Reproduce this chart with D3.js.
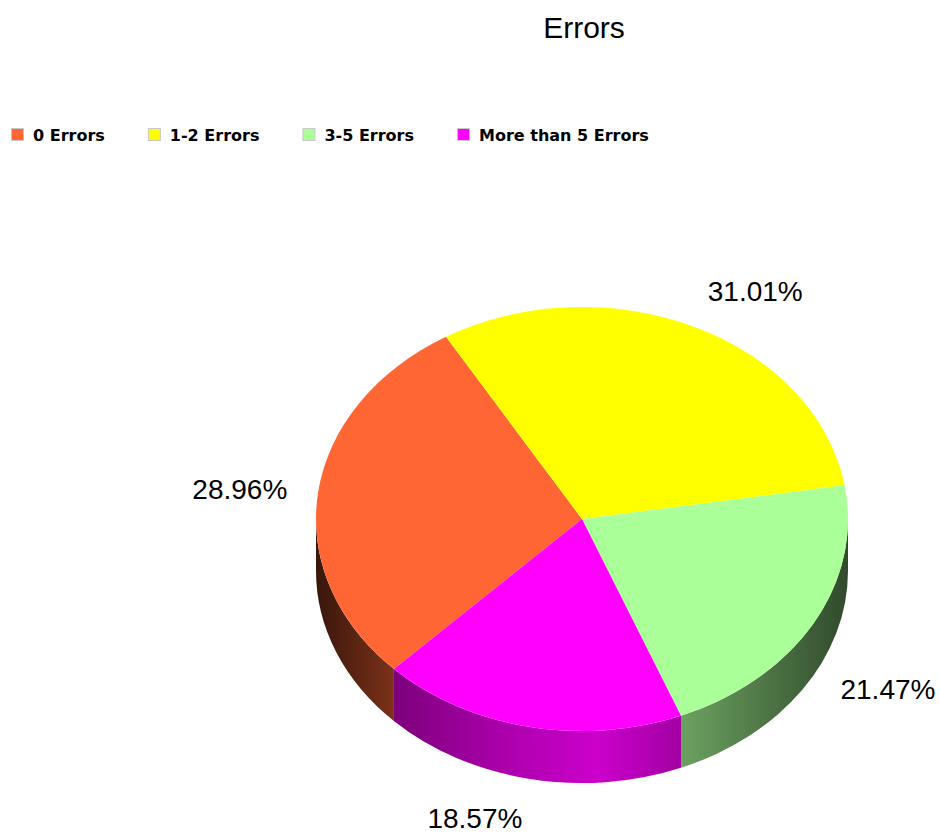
<!DOCTYPE html>
<html>
<head>
<meta charset="utf-8">
<script src="https://cdn.jsdelivr.net/npm/d3@7/dist/d3.min.js"></script>
<style>
  html, body { margin: 0; padding: 0; background: #ffffff; }
  svg { display: block; }
</style>
</head>
<body>
<svg id="chart" width="940" height="838"></svg>
<script>
// Data
const chartTitle = "Errors";
const categories = ["0 Errors", "1-2 Errors", "3-5 Errors", "More than 5 Errors"];
const shares = [28.96, 31.01, 21.47, 18.57];
const sliceColors = ["#FF6633", "#FFFF00", "#AAFF99", "#FF00FF"];

// Layout
const W = 940, H = 838;
const cx = 582, cy = 519;        // centre of the top face
const rx = 266, ry = 212;        // ellipse radii of the top face
const depth = 52;                // thickness of the disc
const k = ry / rx;               // vertical squash
const labelGap = 31;

const svg = d3.select("#chart");
const defs = svg.append("defs");

// Shading of the rim: brightness factor across the width of the disc
const rimShade = [[0, 0.22], [0.148, 0.49], [0.35, 0.67], [0.53, 0.8], [0.69, 0.63], [1, 0.29]];

sliceColors.forEach((c, i) => {
  const g = defs.append("linearGradient")
    .attr("id", "rim" + i)
    .attr("gradientUnits", "userSpaceOnUse")
    .attr("x1", -rx).attr("x2", rx).attr("y1", 0).attr("y2", 0);
  const base = d3.rgb(c);
  rimShade.forEach(([o, f]) => {
    g.append("stop")
      .attr("offset", o)
      .attr("stop-color", d3.rgb(base.r * f, base.g * f, base.b * f).formatHex());
  });
});

// Title
svg.append("text")
  .attr("x", 584).attr("y", 27)
  .attr("text-anchor", "middle")
  .attr("dominant-baseline", "central")
  .style("font-family", "'Liberation Sans', Arial, sans-serif")
  .style("font-size", "30px")
  .attr("fill", "#000")
  .text(chartTitle);

// Legend
const legend = svg.append("g").attr("transform", "translate(11,135)");
let lx = 0;
categories.forEach((name, i) => {
  const item = legend.append("g").attr("transform", `translate(${lx},0)`);
  item.append("rect")
    .attr("x", 0.5).attr("y", -6.5)
    .attr("width", 12).attr("height", 12)
    .attr("fill", sliceColors[i])
    .attr("stroke", "#c8c8c8")
    .attr("stroke-width", 1);
  const t = item.append("text")
    .attr("x", 22).attr("y", 0)
    .attr("dominant-baseline", "central")
    .style("font-family", "'DejaVu Sans', sans-serif")
    .style("font-weight", "bold")
    .style("font-size", "16px")
    .attr("fill", "#000")
    .text(name);
  lx += 22 + t.node().getComputedTextLength() + 43;
});

// Pie layout: slices run clockwise, first one starting at lower left
const start = 5 * Math.PI / 4;
const pie = d3.pie().sort(null).value(d => d)
  .startAngle(start).endAngle(start + 2 * Math.PI);
const arcs = pie(shares);

const disc = svg.append("g")
  .attr("transform", `translate(${cx},${cy}) scale(1,${k})`);

// Rim (only the front half of the disc is visible)
const h = depth / k;
arcs.forEach((d, i) => {
  const s1 = d.startAngle - Math.PI / 2;
  const s2 = d.endAngle - Math.PI / 2;
  for (let m = -2; m <= 2; m++) {
    const lo = Math.max(s1, 2 * Math.PI * m);
    const hi = Math.min(s2, 2 * Math.PI * m + Math.PI);
    if (hi <= lo) continue;
    const p = d3.path();
    p.moveTo(rx * Math.cos(lo), rx * Math.sin(lo));
    p.arc(0, 0, rx, lo, hi, false);
    p.lineTo(rx * Math.cos(hi), rx * Math.sin(hi) + h);
    p.arc(0, h, rx, hi, lo, true);
    p.closePath();
    disc.append("path")
      .attr("d", p.toString())
      .attr("fill", `url(#rim${i})`);
  }
});

// Top face
const arcGen = d3.arc().innerRadius(0).outerRadius(rx);
disc.selectAll("path.top")
  .data(arcs)
  .join("path")
  .attr("class", "top")
  .attr("d", arcGen)
  .attr("fill", (d, i) => sliceColors[i]);

// Percentage labels
const fmt = d3.format(".2f");
svg.append("g").selectAll("text")
  .data(arcs)
  .join("text")
  .each(function (d) {
    const t = (d.startAngle + d.endAngle) / 2 - Math.PI / 2;
    const c = Math.cos(t), s = Math.sin(t);
    const px = cx + (rx + labelGap) * c;
    const py = cy + (ry + labelGap) * s + (s > 0 ? depth : 0) + s * 10.5 - s * c * c * 16;
    d3.select(this)
      .attr("x", px)
      .attr("y", py)
      .attr("text-anchor", c >= 0 ? "start" : "end")
      .attr("dominant-baseline", "central");
  })
  .style("font-family", "'Liberation Sans', Arial, sans-serif")
  .style("font-size", "28px")
  .attr("fill", "#000")
  .text(d => fmt(d.value) + "%");
</script>
</body>
</html>
